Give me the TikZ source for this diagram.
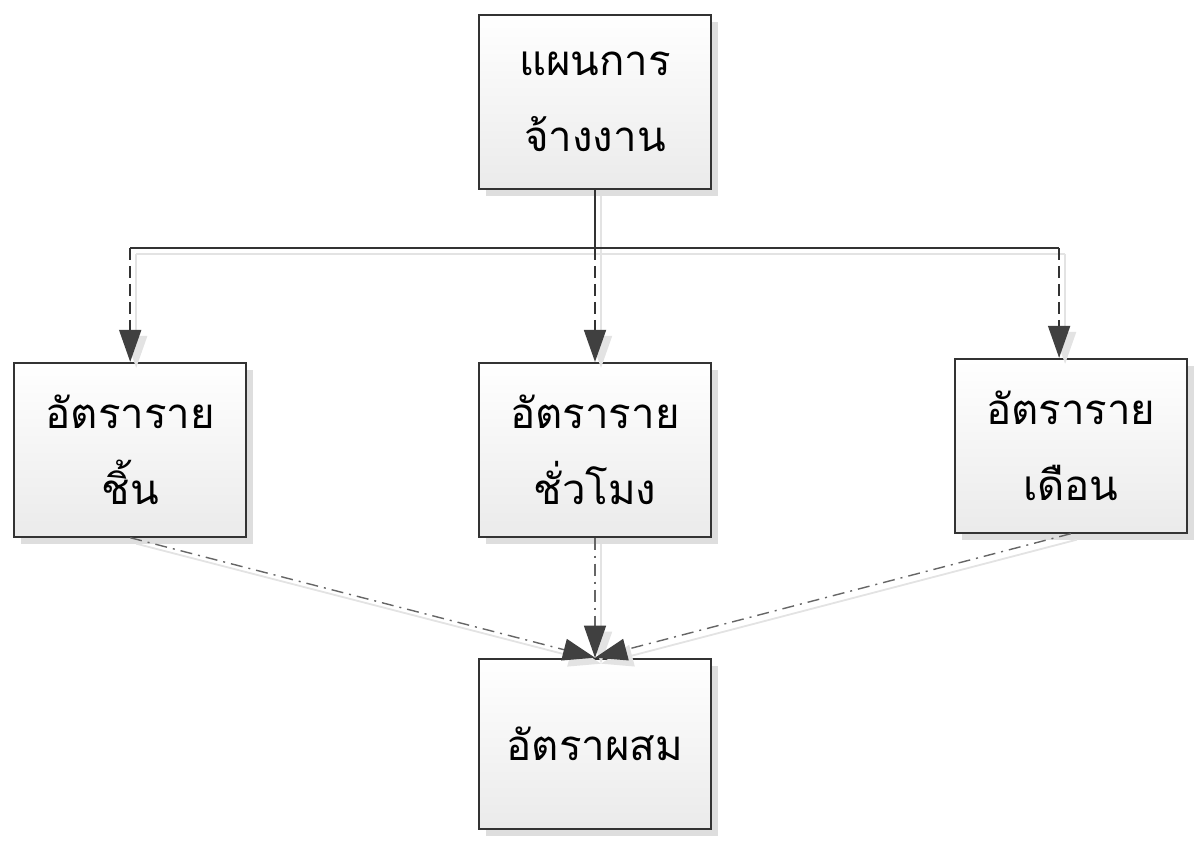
\documentclass[tikz,border=0pt]{standalone}
\usepackage{fontspec}
\newfontfamily\thaifont[Script=Thai]{Loma}
\usepackage{tikz}
\usetikzlibrary{calc,positioning,arrows.meta,shadows}
\tikzstyle{box} = [draw=black!80, line width=0.9pt, rectangle, minimum width=116pt, minimum height=87pt, top color=white, bottom color=black!8, align=center, font=\thaifont\fontsize{21}{38}\selectfont, drop shadow={shadow xshift=3.5pt, shadow yshift=-3.5pt, fill=black!13, opacity=1}]
\tikzstyle{trunk} = [draw=black!80, line width=0.9pt]
\tikzstyle{feed} = [trunk, dash pattern=on 6pt off 3pt, -{Triangle[length=16pt,width=11pt,color=black!75]}]
\tikzstyle{merge} = [draw=black!60, line width=0.7pt, dash pattern=on 6pt off 3pt on 1pt off 3pt, -{Triangle[length=16pt,width=11pt,color=black!75]}]
\tikzstyle{ghost} = [draw=black!11, line width=0.9pt, transform canvas={shift={(3pt,-3pt)}}]
\tikzstyle{ghostarrow} = [ghost, -{Triangle[length=16pt,width=11pt]}]
\tikzset{x=0.5pt, y=-0.5pt}

\begin{document}
\begin{tikzpicture}
\useasboundingbox (0,0) rectangle (1200,844);

\node[box] (plan) at (595,102) {แผนการ\\จ้างงาน};
\node[box, below=86pt of plan] (hour) {อัตราราย\\ชั่วโมง};
\node[box, left=115.5pt of hour] (piece) {อัตราราย\\ชิ้น};
\node[box, right=121pt of hour, yshift=2pt] (month) {อัตราราย\\เดือน};
\node[box, below=60pt of hour, minimum height=85pt] (mix) {อัตราผสม};

\coordinate (split) at ($(plan.south)+(0,58)$);
\coordinate (monthin) at ($(month.north west)!0.45!(month.north east)$);
\coordinate (leftend) at (piece.north |- split);
\coordinate (rightend) at (monthin |- split);

% shadows of the connectors
\draw[ghost] (plan.south) -- (split);
\draw[ghost] (leftend) -- (rightend);
\draw[ghostarrow] (leftend) -- (piece.north);
\draw[ghostarrow] (split) -- (hour.north);
\draw[ghostarrow] (rightend) -- (monthin);
\draw[ghostarrow] (piece.south) -- (mix.north);
\draw[ghostarrow] (hour.south) -- (mix.north);
\draw[ghostarrow] (month.south) -- (mix.north);

\draw[trunk] (plan.south) -- (split);
\draw[trunk] (leftend) -- (rightend);
\draw[feed] (leftend) -- (piece.north);
\draw[feed] (split) -- (hour.north);
\draw[feed] (rightend) -- (monthin);

\draw[merge] (piece.south) -- (mix.north);
\draw[merge] (hour.south) -- (mix.north);
\draw[merge] (month.south) -- (mix.north);
\end{tikzpicture}
\end{document}
